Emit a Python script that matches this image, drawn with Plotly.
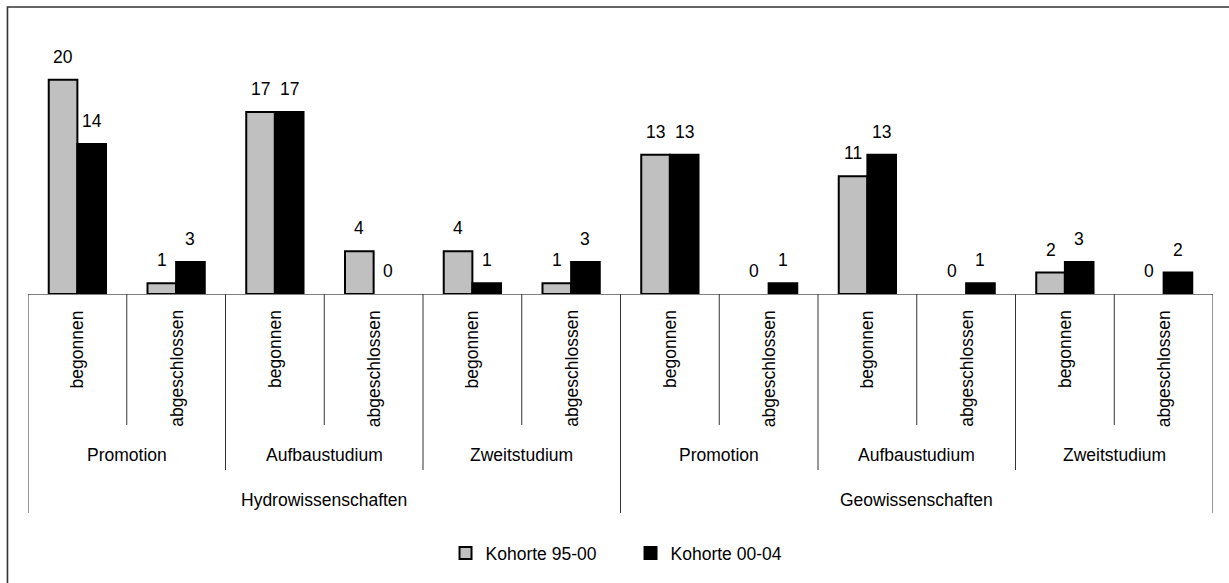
import plotly.graph_objects as go

# ---- data ----
disciplines = ["Hydrowissenschaften", "Geowissenschaften"]
studies = ["Promotion", "Aufbaustudium", "Zweitstudium"]
status = ["begonnen", "abgeschlossen"]
series_names = ["Kohorte 95-00", "Kohorte 00-04"]
kohorte_95_00 = [20, 1, 17, 4, 4, 1, 13, 0, 11, 0, 2, 0]
kohorte_00_04 = [14, 3, 17, 0, 1, 3, 13, 1, 13, 1, 3, 2]

# ---- styling ----
FONT = "Liberation Sans, Arial, sans-serif"
FS = 17.5
GRAY = "#C0C0C0"
BLACK = "#000000"
BARGAP = 0.42

cat_status = [s for d in disciplines for st in studies for s in status]
n = len(cat_status)
xs = list(range(n))

fig = go.Figure()
for name, vals, col in [(series_names[0], kohorte_95_00, GRAY),
                        (series_names[1], kohorte_00_04, BLACK)]:
    fig.add_trace(go.Bar(
        x=xs, y=vals, name=name,
        marker=dict(color=col, line=dict(color=BLACK,
                                         width=[2 if v else 0 for v in vals])),
        hoverinfo="x+y",
    ))

# bar value labels
bw = (1 - BARGAP) / 2
for k, vals in enumerate([kohorte_95_00, kohorte_00_04]):
    off = (k - 0.5) * bw
    for i, v in enumerate(vals):
        fig.add_annotation(x=i + off, y=v, xref="x", yref="y", text=str(v),
                           showarrow=False, yanchor="middle", yshift=23,
                           font=dict(family=FONT, size=FS, color="#000"))

# axis helpers (paper y values below the plot)
H = 257.0
def py(pix):  # pixel offset below axis -> paper y
    return -pix / H

LINE = dict(color="#333333", width=1)
# level 1: status labels and inner separators
for i, s in enumerate(cat_status):
    fig.add_annotation(x=i, y=py(14), xref="x", yref="paper", text=s,
                       textangle=-90, showarrow=False, xanchor="center", yanchor="top",
                       font=dict(family=FONT, size=FS, color="#000"))
n_st = len(status)
n_study = len(studies) * n_st
for b in range(n + 1):
    xb = b - 0.5
    if b % n_study == 0:
        depth = 219
    elif b % n_st == 0:
        depth = 176
    else:
        depth = 131
    fig.add_shape(type="line", xref="x", yref="paper", x0=xb, x1=xb,
                  y0=0, y1=py(depth), line=LINE)
# level 2: study labels
for j in range(len(disciplines) * len(studies)):
    center = j * n_st + (n_st - 1) / 2
    fig.add_annotation(x=center, y=py(161), xref="x", yref="paper",
                       text=studies[j % len(studies)], showarrow=False,
                       xanchor="center", yanchor="middle",
                       font=dict(family=FONT, size=FS, color="#000"))
# level 3: discipline labels
for j, d in enumerate(disciplines):
    center = j * n_study + (n_study - 1) / 2
    fig.add_annotation(x=center, y=py(206), xref="x", yref="paper",
                       text=d, showarrow=False, xanchor="center", yanchor="middle",
                       font=dict(family=FONT, size=FS, color="#000"))

# outer border of chart area
fig.add_shape(type="rect", xref="paper", yref="paper",
              x0=-20.5 / 1183, x1=1.06, y0=-1.25, y1=(294 - 7) / H,
              line=dict(color="#333333", width=1.6), fillcolor="rgba(0,0,0,0)", layer="below")

fig.update_layout(
    width=1229, height=583,
    margin=dict(l=28, r=16, t=37, b=289),
    paper_bgcolor="white", plot_bgcolor="white",
    barmode="group", bargap=BARGAP, bargroupgap=0,
    font=dict(family=FONT, size=FS, color="#000"),
    showlegend=True,
    legend=dict(orientation="h", x=0.5 + 10 / 1183, xanchor="center", y=py(259), yanchor="middle",
                font=dict(family=FONT, size=FS, color="#000"),
                itemwidth=30, entrywidth=140, traceorder="normal"),
    xaxis=dict(range=[-0.5, n - 0.5], showticklabels=False, showgrid=False,
               zeroline=False, showline=True, linecolor="#808080", linewidth=1,
               ticks="", fixedrange=True),
    yaxis=dict(range=[0, 24], visible=False, fixedrange=True),
)

fig.write_html("out.html", config={"displayModeBar": False},
               post_script="document.body.style.margin='0px';document.body.style.padding='0px';")
